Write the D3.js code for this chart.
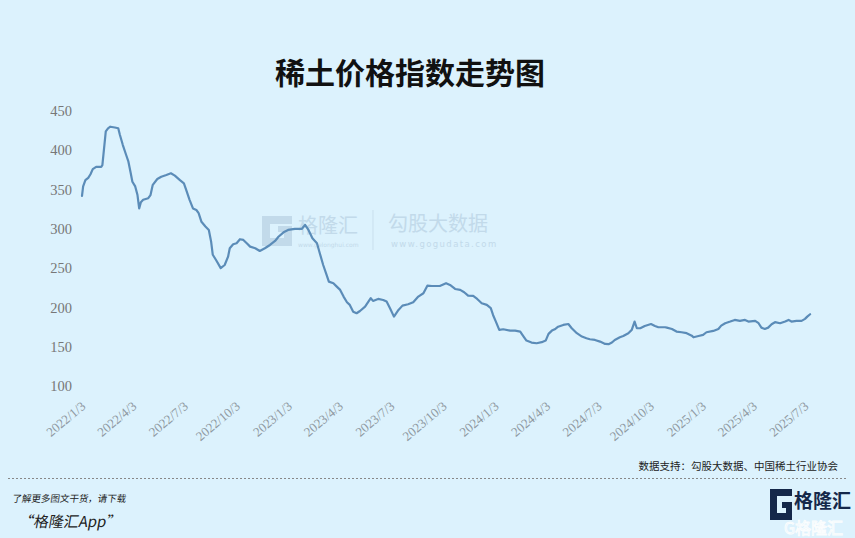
<!DOCTYPE html>
<html>
<head>
<meta charset="utf-8">
<script src="https://cdn.jsdelivr.net/npm/d3@7/dist/d3.min.js"></script>
<style>
  html, body { margin: 0; padding: 0; background: #dcf2fd; }
  svg { display: block; }
</style>
</head>
<body>
<svg id="chart" width="855" height="538"></svg>
<script>
const titleText = "稀土价格指数走势图";
const sourceText = "数据支持：勾股大数据、中国稀土行业协会";

const dates = [
  "2022-01-03","2022-01-05","2022-01-09","2022-01-14","2022-01-18","2022-01-22","2022-01-28","2022-02-06","2022-02-08","2022-02-14",
  "2022-02-18","2022-02-22","2022-03-02","2022-03-08","2022-03-11","2022-03-16","2022-03-22","2022-03-26","2022-03-30","2022-04-02",
  "2022-04-07","2022-04-11","2022-04-14","2022-04-17","2022-04-21","2022-04-30","2022-05-04","2022-05-08","2022-05-16","2022-05-23",
  "2022-06-01","2022-06-09","2022-06-16","2022-06-25","2022-07-02","2022-07-06","2022-07-12","2022-07-18","2022-07-24","2022-07-28",
  "2022-08-02","2022-08-09","2022-08-15","2022-08-19","2022-08-22","2022-08-28","2022-09-05","2022-09-12","2022-09-18","2022-09-21",
  "2022-09-27","2022-10-03","2022-10-09","2022-10-15","2022-10-21","2022-10-27","2022-11-05","2022-11-13","2022-11-22","2022-12-01",
  "2022-12-10","2022-12-16","2022-12-25","2023-01-02","2023-01-14","2023-01-26","2023-02-01","2023-02-07","2023-02-14","2023-02-22",
  "2023-02-27","2023-03-05","2023-03-11","2023-03-15","2023-03-23","2023-03-29","2023-04-04","2023-04-10","2023-04-16","2023-04-21",
  "2023-04-27","2023-05-03","2023-05-09","2023-05-18","2023-05-28","2023-06-01","2023-06-10","2023-06-19","2023-06-25","2023-07-01",
  "2023-07-08","2023-07-16","2023-07-23","2023-08-02","2023-08-11","2023-08-20","2023-08-29","2023-09-05","2023-09-13","2023-09-27",
  "2023-10-08","2023-10-15","2023-10-24","2023-11-02","2023-11-09","2023-11-16","2023-11-25","2023-12-02","2023-12-10","2023-12-19",
  "2023-12-26","2023-12-30","2024-01-04","2024-01-10","2024-01-17","2024-01-29","2024-02-07","2024-02-16","2024-02-22","2024-02-27",
  "2024-03-07","2024-03-16","2024-03-25","2024-04-01","2024-04-06","2024-04-12","2024-04-17","2024-04-23","2024-05-02","2024-05-11",
  "2024-05-17","2024-05-26","2024-06-04","2024-06-12","2024-06-18","2024-06-27","2024-07-06","2024-07-15","2024-07-21","2024-07-27",
  "2024-08-01","2024-08-10","2024-08-16","2024-08-25","2024-08-31","2024-09-05","2024-09-09","2024-09-15","2024-09-23","2024-10-04",
  "2024-10-11","2024-10-17","2024-10-29","2024-11-01","2024-11-10","2024-11-18","2024-11-27","2024-12-06","2024-12-15","2024-12-18",
  "2024-12-27","2025-01-04","2025-01-10","2025-01-22","2025-01-31","2025-02-05","2025-02-12","2025-02-21","2025-03-01","2025-03-10",
  "2025-03-19","2025-03-25","2025-04-06","2025-04-12","2025-04-17","2025-04-23","2025-04-29","2025-05-05","2025-05-11","2025-05-20",
  "2025-05-29","2025-06-04","2025-06-09","2025-06-18","2025-06-27","2025-07-03","2025-07-07","2025-07-12"
];

const values = [
  342,354,362,365,369.5,376,379,379,381,424,
  428,430,429,428,419.5,407,394,385.5,371,360,
  354,343,326,334,337,339,343,356,363.5,366.4,
  368.6,370.7,367.7,362,358,349.5,337,326,324,320,
  309,303,298.6,284,267,260,250,254,264.6,275.3,
  280.4,281.7,286.8,285.9,281.7,277.4,275.3,271.9,275.3,279.5,
  284.6,290,295.6,298.6,299.9,299.9,305,298.6,288,281.7,
  269,254,241.3,232.8,230.8,226.5,222.3,213.8,206.6,203.2,
  194.6,192.6,195.5,201,211.7,208.3,210.8,209.5,207.4,199,
  188.3,196.8,202.3,204,206.6,213.8,218,227.7,227.3,227.3,
  230.8,228.6,223.5,222.3,219.3,215,214.6,210.8,205.3,203.2,
  199,190.4,182,171.4,172.2,170.5,170.5,169.3,162.9,157.8,
  155.3,154.4,155.8,157.8,166.3,170.5,172.2,175.5,177.7,178.9,
  173.5,167.2,162.9,160.8,159.5,158.6,156.5,153.6,153.2,155.3,
  158.6,162,163.7,167.2,171.4,182,173.5,173.5,176.4,178.9,
  176.4,174.8,174.8,174.3,172.6,169.3,168.4,167.2,164.1,162,
  163.7,165,168.4,170.1,172.6,176.8,179.9,182,184.1,182.9,
  184.1,182,182.9,179.9,174.3,172.6,174.3,178.6,181.2,179.9,
  182,184.1,182,182.9,182.9,185.4,188.3,191.3
];

const yTicks = [100,150,200,250,300,350,400,450];
const xTickLabels = ["2022/1/3","2022/4/3","2022/7/3","2022/10/3","2023/1/3","2023/4/3","2023/7/3","2023/10/3",
  "2024/1/3","2024/4/3","2024/7/3","2024/10/3","2025/1/3","2025/4/3","2025/7/3"];

const parseD = d3.timeParse("%Y-%m-%d");
const parseT = d3.timeParse("%Y/%m/%d");
const series = dates.map((d, i) => ({ date: parseD(d), value: values[i] }));
const tickDates = xTickLabels.map(parseT);

const svg = d3.select("#chart");
svg.append("rect").attr("width", 855).attr("height", 538).attr("fill", "#dcf2fd");

const x = d3.scaleTime().domain([tickDates[0], tickDates[tickDates.length - 1]]).range([82, 805]);
const y = d3.scaleLinear().domain([100, 450]).range([386, 111]);

// Title
svg.append("text")
  .attr("x", 410).attr("y", 84)
  .attr("text-anchor", "middle")
  .attr("font-family", "'Noto Sans CJK SC', sans-serif")
  .attr("font-weight", "bold")
  .attr("font-size", 30)
  .attr("fill", "#111")
  .text(titleText);

// Watermark
const wm = svg.append("g").attr("opacity", 0.5);
wm.append("path")
  .attr("d", "M262,216 h30 v8 h-22 v14 h14 v-6 h-6 v-6 h14 v20 h-30 z")
  .attr("fill", "#a9c3d8");
wm.append("text").attr("x", 298).attr("y", 233)
  .attr("font-family", "'Noto Sans CJK SC', sans-serif").attr("font-size", 20)
  .attr("fill", "#a9c3d8").text("格隆汇");
wm.append("text").attr("x", 298).attr("y", 247)
  .attr("font-family", "'DejaVu Sans', sans-serif").attr("font-size", 6)
  .attr("fill", "#a9c3d8").text("www.gelonghui.com");
wm.append("line").attr("x1", 373).attr("x2", 373).attr("y1", 210).attr("y2", 250)
  .attr("stroke", "#b9cfe0").attr("stroke-width", 1);
wm.append("text").attr("x", 388).attr("y", 231)
  .attr("font-family", "'Noto Sans CJK SC', sans-serif").attr("font-size", 20)
  .attr("fill", "#a9c3d8").text("勾股大数据");
wm.append("text").attr("x", 391).attr("y", 247)
  .attr("font-family", "'DejaVu Sans', sans-serif").attr("font-size", 8.5)
  .attr("letter-spacing", 1.4)
  .attr("fill", "#a9c3d8").text("www.gogudata.com");

// Y axis
const yAxis = svg.append("g")
  .attr("transform", "translate(74,0)")
  .call(d3.axisLeft(y).tickValues(yTicks).tickSize(0).tickPadding(2));
yAxis.select(".domain").remove();
yAxis.selectAll("text")
  .attr("font-family", "'Liberation Serif', serif")
  .attr("font-size", 14.5)
  .attr("fill", "#777");

// X axis
const fmt = d3.timeFormat("%Y/%-m/%-d");
const xAxis = svg.append("g")
  .attr("transform", "translate(0,395)")
  .call(d3.axisBottom(x).tickValues(tickDates).tickFormat(fmt).tickSize(0));
xAxis.select(".domain").remove();
xAxis.selectAll("text")
  .attr("x", 0).attr("y", 0).attr("dy", "0.35em")
  .attr("text-anchor", "end")
  .attr("transform", "translate(1,9) rotate(-40)")
  .attr("font-family", "'Liberation Serif', serif")
  .attr("font-size", 13)
  .attr("fill", "#8f99a1");

// Line
const line = d3.line().x(d => x(d.date)).y(d => y(d.value));
svg.append("path")
  .datum(series)
  .attr("d", line)
  .attr("fill", "none")
  .attr("stroke", "#5b8cb8")
  .attr("stroke-width", 2.2)
  .attr("stroke-linejoin", "round")
  .attr("stroke-linecap", "round");

// Footer
svg.append("text")
  .attr("x", 838).attr("y", 470)
  .attr("text-anchor", "end")
  .attr("font-family", "'Noto Sans CJK SC', sans-serif")
  .attr("font-size", 10.5)
  .attr("fill", "#222")
  .text(sourceText);
svg.append("line")
  .attr("x1", 8).attr("x2", 846).attr("y1", 478.5).attr("y2", 478.5)
  .attr("stroke", "#888").attr("stroke-width", 1)
  .attr("stroke-dasharray", "2,2");

svg.append("text")
  .attr("x", 12).attr("y", 502)
  .attr("font-family", "'Noto Sans CJK SC', sans-serif")
  .attr("font-size", 9.5)
  .attr("transform", "skewX(-8)")
  .attr("transform-origin", "12px 502px")
  .attr("fill", "#222")
  .text("了解更多图文干货，请下载");
svg.append("text")
  .attr("x", 18).attr("y", 527)
  .attr("font-family", "'Noto Sans CJK SC', sans-serif")
  .attr("font-size", 15)
  .attr("transform", "skewX(-10)")
  .attr("transform-origin", "18px 527px")
  .attr("fill", "#222")
  .text("“格隆汇App”");

// Bottom-right logo
const logo = svg.append("g");
logo.append("path")
  .attr("d", "M770,489 h22 v7 h-15 v17 h9 v-5 h-4 v-6 h10 v18 h-22 z")
  .attr("fill", "#15284a");
logo.append("text").attr("x", 794).attr("y", 508)
  .attr("font-family", "'Noto Sans CJK SC', sans-serif").attr("font-weight", "bold")
  .attr("font-size", 19).attr("fill", "#15284a").text("格隆汇");
logo.append("text").attr("x", 784).attr("y", 534)
  .attr("font-family", "'Noto Sans CJK SC', sans-serif")
  .attr("font-size", 16).attr("fill", "none")
  .attr("stroke", "#ffffff").attr("stroke-width", 0.9).attr("opacity", 0.9)
  .text("G格隆汇");
</script>
</body>
</html>
